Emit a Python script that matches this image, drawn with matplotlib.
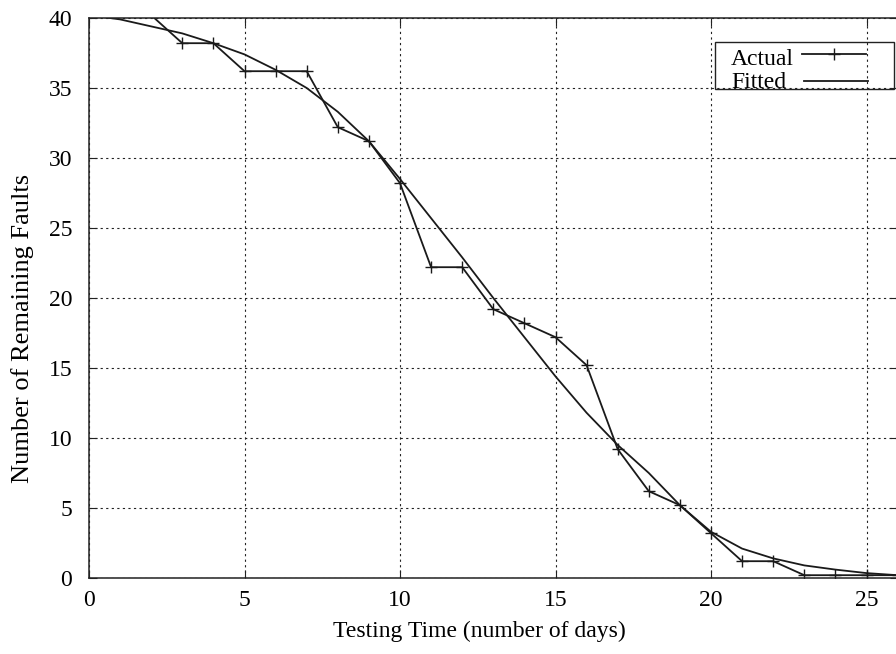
import matplotlib
matplotlib.use("Agg")
import matplotlib.pyplot as plt
from matplotlib.patches import Rectangle
from matplotlib.lines import Line2D

plt.rcParams['font.family'] = ['Liberation Serif', 'DejaVu Serif']

# testing days
days = list(range(0, 27))
# actual remaining faults
actual = [40.2, 40.2, 40.2, 38.2, 38.2, 36.2, 36.2, 36.2, 32.2, 31.2,
          28.2, 22.2, 22.2, 19.2, 18.2, 17.2, 15.2, 9.2, 6.2, 5.2,
          3.2, 1.2, 1.2, 0.2, 0.2, 0.2, 0.2]
# fitted model values
fitted = [40.2, 39.9, 39.4, 38.9, 38.2, 37.4, 36.3, 35.0, 33.3, 31.2,
          28.5, 25.7, 22.9, 20.0, 17.2, 14.4, 11.8, 9.5, 7.5, 5.2,
          3.3, 2.1, 1.4, 0.9, 0.6, 0.35, 0.2]
series_names = ['Actual', 'Fitted']

W, H = 896, 654
fig = plt.figure(figsize=(W / 100, H / 100), dpi=100)
ax_w = 26 * 31.1
ax = fig.add_axes([89 / W, 76 / H, ax_w / W, 560 / H])

col = '#1a1a1a'
# gnuplot style: line is clipped, points outside the range are skipped
ax.plot(days, actual, color=col, lw=1.3)
inside = [(d, a) for d, a in zip(days, actual) if a <= 40]
ax.plot([p[0] for p in inside], [p[1] for p in inside], ls='none',
        marker='+', ms=9, mew=1.0, color=col)
ax.plot(days, fitted, color=col, lw=1.3)

ax.set_xlim(0, 26)
ax.set_ylim(0, 40)
ax.set_xticks([0, 5, 10, 15, 20, 25])
ax.set_yticks(range(0, 41, 5))

ax.grid(True, color='#222222', linestyle=(0, (2, 3)), linewidth=0.8)
ax.tick_params(direction='in', top=True, right=True, length=6,
               labelsize=17, color='#222222')
ax.tick_params(axis='x', pad=9)
ax.tick_params(axis='y', pad=12)
for s in ax.spines.values():
    s.set_linewidth(1.1)
    s.set_color('#222222')

ax.set_xlabel('Testing Time (number of days)', fontsize=17, ha='left', va='baseline')
ax.xaxis.set_label_coords((333 - 89) / ax_w, -(637 - 578) / 560)
ax.set_ylabel('Number of Remaining Faults', fontsize=19, va='baseline')
ax.yaxis.set_label_coords(-(89 - 29) / ax_w, (578 - 328) / 560)

# key drawn gnuplot style: label left-aligned, sample to its right, in a box
def px(x, y):
    return x / W, 1 - y / H

fig.patches.append(Rectangle(px(715, 89), 179 / W, 47 / H,
                             transform=fig.transFigure, fill=False,
                             edgecolor='#222222', lw=1.0))
key_rows = [(65, 54, 802, 866, True), (88, 80.5, 804, 868, False)]
for name, (base_y, line_y, x0, x1, pts) in zip(series_names, key_rows):
    fig.text(*px(731, base_y), name, fontsize=17, va='baseline', ha='left')
    fig.lines.append(Line2D([x0 / W, x1 / W], [1 - line_y / H] * 2,
                            transform=fig.transFigure, color=col, lw=1.3))
    if pts:
        fig.lines.append(Line2D([(x0 + x1) / 2 / W], [1 - line_y / H],
                                transform=fig.transFigure, color=col, ls='none',
                                marker='+', ms=9, mew=1.0))

fig.savefig('out.png', dpi=100)
